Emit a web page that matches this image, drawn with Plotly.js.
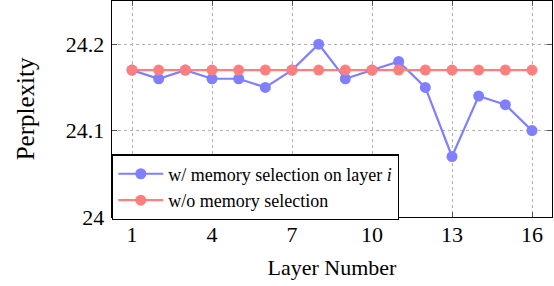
<!DOCTYPE html>
<html><head><meta charset="utf-8">
<script src="https://cdn.plot.ly/plotly-3.0.1.min.js"></script>
<style>html,body{margin:0;padding:0;background:#fff}</style>
</head><body>
<div id="chart" style="width:554px;height:286px"></div>
<script>
const layers = [1,2,3,4,5,6,7,8,9,10,11,12,13,14,15,16];
const withSelection = [24.17,24.16,24.17,24.16,24.16,24.15,24.17,24.20,24.16,24.17,24.18,24.15,24.07,24.14,24.13,24.10];
const withoutSelection = [24.17,24.17,24.17,24.17,24.17,24.17,24.17,24.17,24.17,24.17,24.17,24.17,24.17,24.17,24.17,24.17];
const xTicks = [1,4,7,10,13,16];
const yTicks = [24,24.1,24.2];
const yTickText = ['24','24.1','24.2'];
const seriesNames = ['w/ memory selection on layer <i>i</i>','w/o memory selection'];

const font = "Liberation Serif";
const traces = [
  {x: layers, y: withSelection, name: seriesNames[0], mode:'lines+markers',
   line:{color:'#7f7fff', width:2.2}, marker:{color:'#7f7fff', size:11}},
  {x: layers, y: withoutSelection, name: seriesNames[1], mode:'lines+markers',
   line:{color:'#ff7f7f', width:2.2}, marker:{color:'#ff7f7f', size:11}}
];
const axisCommon = {showline:true, mirror:'ticks', linecolor:'#000', linewidth:1.3,
  ticks:'inside', ticklen:5, tickcolor:'#555', showgrid:true, gridcolor:'#b0b0b0',
  griddash:'dot', gridwidth:1, zeroline:false, tickfont:{family:font, size:22, color:'#000'}};
const layout = {
  width:554, height:286, margin:{l:112, r:2, t:1, b:69},
  paper_bgcolor:'#fff', plot_bgcolor:'#fff', font:{family:font, color:'#000'},
  xaxis: Object.assign({}, axisCommon, {range:[0.25,16.75], tickvals:xTicks, ticklabelstandoff:-3,
    title:{text:'Layer Number', font:{family:font, size:22}, standoff:14}}),
  yaxis: Object.assign({}, axisCommon, {range:[24,24.25], tickvals:yTicks, ticktext:yTickText, ticklabelstandoff:2,
    title:{text:'Perplexity', font:{family:font, size:25}, standoff:24}}),
  showlegend:true,
  legend:{x:0, y:-0.015, xanchor:'left', yanchor:'bottom', bgcolor:'#fff', bordercolor:'#000', borderwidth:1.3,
    font:{family:font, size:18, color:'#000'}, tracegroupgap:0, itemwidth:45}
};
Plotly.newPlot('chart', traces, layout, {displayModeBar:false, staticPlot:true});
</script>
</body></html>
